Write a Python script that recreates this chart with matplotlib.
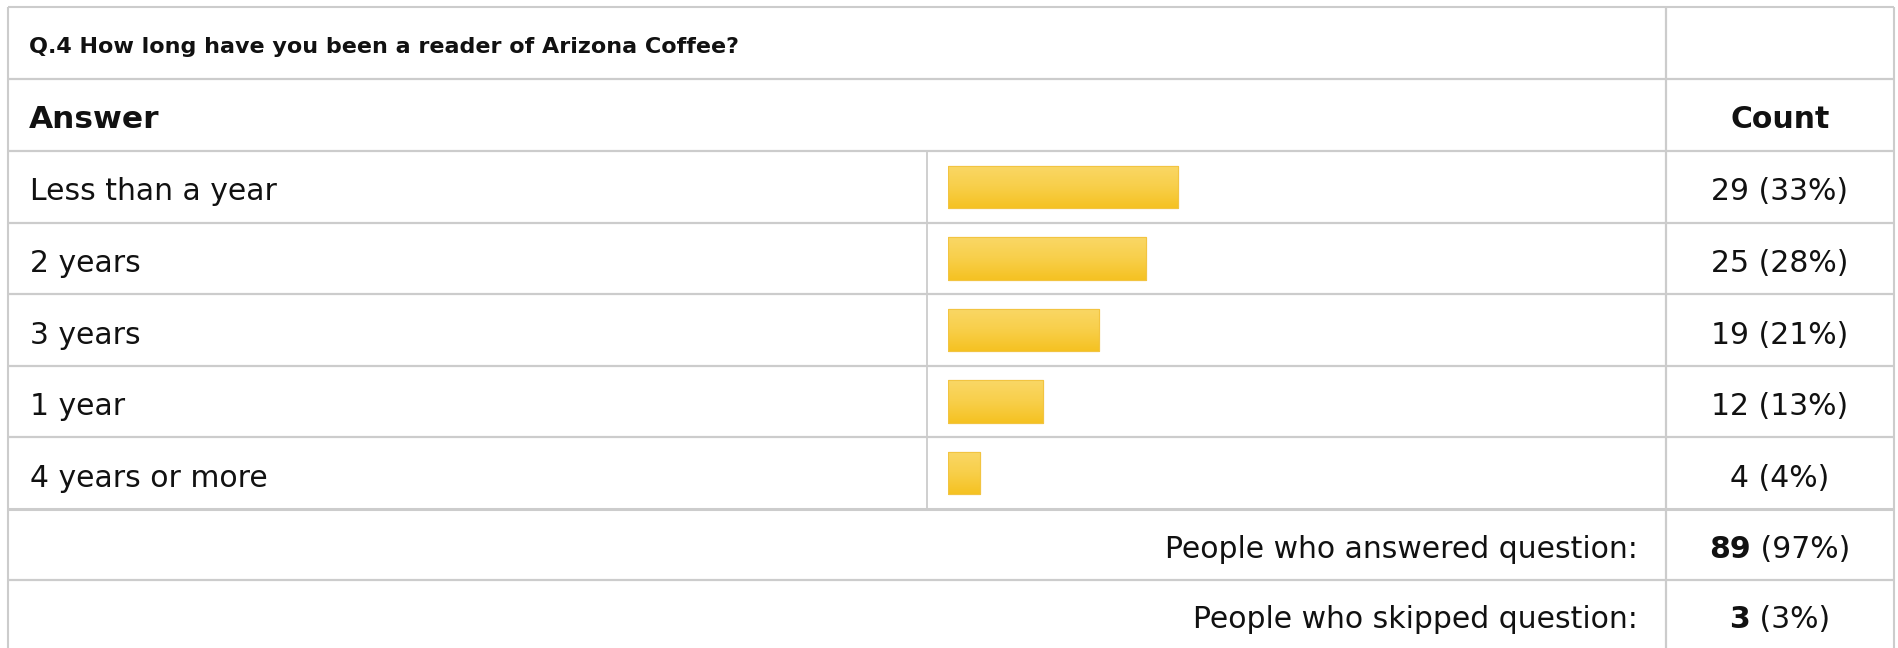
import matplotlib
matplotlib.use("Agg")
import matplotlib.pyplot as plt
import numpy as np
from matplotlib.colors import LinearSegmentedColormap

# ---- data ----
question = "Q.4 How long have you been a reader of Arizona Coffee?"
answers = ["Less than a year", "2 years", "3 years", "1 year", "4 years or more"]
counts = [29, 25, 19, 12, 4]
percents = [33, 28, 21, 13, 4]
answered_count = 89
answered_pct = 97
skipped_count = 3
skipped_pct = 3

W, H = 1899, 648
fig = plt.figure(figsize=(W / 100, H / 100), dpi=100)
fig.patch.set_facecolor("white")

# background axes in pixel coordinates for the table grid and text
bg = fig.add_axes([0, 0, 1, 1])
bg.set_xlim(0, W)
bg.set_ylim(H, 0)
bg.axis("off")

grid_c = "#cccccc"
L, R, T = 8, 1894, 7
col_count = 1666
col_bar = 927
row_lines = [79, 151, 223, 294, 366, 437, 509, 580]

# outer borders
bg.plot([L, R], [T, T], color=grid_c, lw=1.5, solid_capstyle="butt")
bg.plot([L, L], [T, H], color=grid_c, lw=1.5, solid_capstyle="butt")
bg.plot([R, R], [T, H], color=grid_c, lw=1.5, solid_capstyle="butt")
for y in row_lines:
    bg.plot([L, R], [y, y], color=grid_c, lw=2.2 if y == 509 else 1.6,
            solid_capstyle="butt")
bg.plot([col_count, col_count], [T, H], color=grid_c, lw=1.6, solid_capstyle="butt")
bg.plot([col_bar, col_bar], [151, 509], color=grid_c, lw=1.3, solid_capstyle="butt")

font = "DejaVu Sans"
txt_c = "#111111"
count_center = (col_count + R) / 2
body_fs = 21.5

# title
bg.text(29, 53, question, fontsize=16, fontweight="bold", family=font,
        color=txt_c, va="baseline", ha="left")
# header
bg.text(29, 127.5, "Answer", fontsize=22.5, fontweight="bold", family=font,
        color=txt_c, va="baseline", ha="left")
bg.text(count_center, 127.5, "Count", fontsize=21.5, fontweight="bold", family=font,
        color=txt_c, va="baseline", ha="center")

# answer rows
row_top = 151
row_h = (509 - 151) / len(answers)
for i, (a, c, p) in enumerate(zip(answers, counts, percents)):
    yc = row_top + row_h * (i + 0.5)
    bg.text(30, yc + 13.5, a, fontsize=body_fs, family=font, color=txt_c,
            va="baseline", ha="left")
    bg.text(count_center, yc + 13.5, f"{c} ({p}%)", fontsize=body_fs, family=font,
            color=txt_c, va="baseline", ha="center")

# summary rows
fig.canvas.draw()
renderer = fig.canvas.get_renderer()


def mixed(y, bold_part, rest):
    t1 = bg.text(0, y, bold_part, fontsize=body_fs, fontweight="bold", family=font,
                 color=txt_c, va="baseline", ha="left")
    t2 = bg.text(0, y, rest, fontsize=body_fs, family=font, color=txt_c,
                 va="baseline", ha="left")
    w1 = t1.get_window_extent(renderer).width
    w2 = t2.get_window_extent(renderer).width
    x0 = count_center - (w1 + w2) / 2
    t1.set_x(x0)
    t2.set_x(x0 + w1)


summary = [
    ("People who answered question:", answered_count, answered_pct, 558),
    ("People who skipped question:", skipped_count, skipped_pct, 628),
]
for label, c, p, yb in summary:
    bg.text(1638, yb, label, fontsize=body_fs, family=font, color=txt_c,
            va="baseline", ha="right")
    mixed(yb, f"{c}", f" ({p}%)")

# bar axes
bx0, bwidth = 948, 705
ax = fig.add_axes([bx0 / W, (H - 509) / H, bwidth / W, (509 - 151) / H])
ax.axis("off")
total = answered_count
vals = [c / total * 100 for c in counts]
ypos = np.arange(len(answers))
bh = 0.59
bars = ax.barh(ypos, vals, height=bh, left=0, color="#F7CB3E",
               edgecolor="#F2C441", linewidth=0.8, zorder=2)

cmap = LinearSegmentedColormap.from_list("g", ["#FAD766", "#F8CF4A", "#F5C222"])
grad = np.linspace(0, 1, 64).reshape(-1, 1)
for b in bars:
    x0, y0 = b.get_x(), b.get_y()
    w, h = b.get_width(), b.get_height()
    im = ax.imshow(grad, cmap=cmap, aspect="auto", origin="upper",
                   extent=(x0, x0 + w, y0 + h, y0), zorder=3,
                   interpolation="bicubic")
    im.set_clip_path(b)
    ax.add_patch(plt.Rectangle((x0, y0), w, h, fill=False, edgecolor="#F2C441",
                               linewidth=0.8, zorder=4))
ax.set_xlim(0, 100)
ax.set_ylim(len(answers) - 0.5, -0.5)

fig.savefig("out.png", dpi=100, facecolor="white")
